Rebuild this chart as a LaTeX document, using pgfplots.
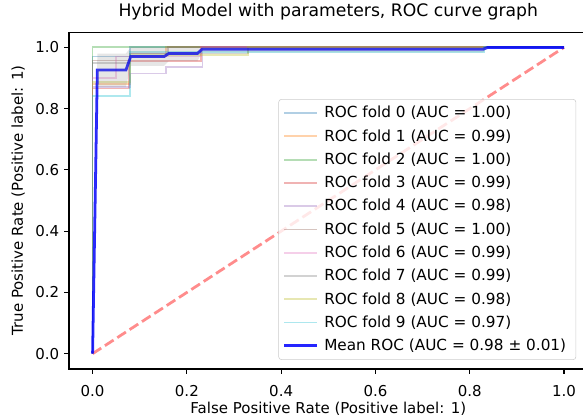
\documentclass[border=0pt]{standalone}
\usepackage{fontspec}
\setmainfont{DejaVu Sans}
\usepackage{pgfplots}
\pgfplotsset{compat=1.18}

\definecolor{c0}{HTML}{1F77B4}
\definecolor{c1}{HTML}{FF7F0E}
\definecolor{c2}{HTML}{2CA02C}
\definecolor{c3}{HTML}{D62728}
\definecolor{c4}{HTML}{9467BD}
\definecolor{c5}{HTML}{8C564B}
\definecolor{c6}{HTML}{E377C2}
\definecolor{c7}{HTML}{7F7F7F}
\definecolor{c8}{HTML}{BCBD22}
\definecolor{c9}{HTML}{17BECF}

\begin{document}
\begin{tikzpicture}
\begin{axis}[
    scale only axis,
    width=373.4pt, height=242.6pt,
    xmin=-0.05, xmax=1.05,
    ymin=-0.05, ymax=1.05,
    xtick={0,0.2,...,1.0}, ytick={0,0.2,...,1.0},
    tick pos=left,
    tick align=outside,
    major tick length=3.5pt,
    every tick/.style={black, line width=0.8pt},
    axis line style={line width=0.8pt},
    font=\fontsize{10.8}{13}\selectfont,
    /pgf/number format/assume math mode=true,
    xticklabel style={yshift=-4.5pt, /pgf/number format/.cd, fixed, fixed zerofill, precision=1},
    yticklabel style={/pgf/number format/.cd, fixed, fixed zerofill, precision=1},
    every axis title shift=0pt,
    title={Hybrid Model with parameters, ROC curve graph},
    title style={font=\fontsize{12.4}{15}\selectfont, at={(axis description cs:0.5,1.059)}, anchor=center},
    xlabel={False Positive Rate (Positive label: 1)},
    ylabel={True Positive Rate (Positive label: 1)},
    xlabel style={at={(axis description cs:0.5,-0.118)}, anchor=center},
    ylabel style={at={(axis description cs:-0.0983,0.5)}, anchor=center},
    legend cell align=left,
    legend image code/.code={\draw[#1] (0pt,0pt) -- (23.8pt,0pt);},
    legend style={at={(0.978,0.027)}, anchor=south east,
        draw=black!20, rounded corners=2pt, fill=white, fill opacity=0.8, text opacity=1,
        font=\fontsize{11}{13}\selectfont, row sep=2.9pt, inner xsep=3pt, inner ysep=3pt,
        nodes={inner xsep=4pt}},
]
% folds
\addplot[c0, line width=1.3pt, opacity=0.35] coordinates {(0,0) (0,0.97) (0.08,0.97) (0.08,1) (1,1)};
\addlegendentry{ROC fold 0 (AUC = 1.00)}
\addplot[c1, line width=1.3pt, opacity=0.35] coordinates {(0,0) (0,0.88) (0.08,0.88) (0.08,0.97) (0.155,0.97) (0.155,1) (1,1)};
\addlegendentry{ROC fold 1 (AUC = 0.99)}
\addplot[c2, line width=1.3pt, opacity=0.35] coordinates {(0,0) (0,1) (1,1)};
\addlegendentry{ROC fold 2 (AUC = 1.00)}
\addplot[c3, line width=1.3pt, opacity=0.35] coordinates {(0,0) (0,0.866) (0.077,0.866) (0.077,0.955) (0.23,0.955) (0.23,1) (1,1)};
\addlegendentry{ROC fold 3 (AUC = 0.99)}
\addplot[c4, line width=1.3pt, opacity=0.35] coordinates {(0,0) (0,0.87) (0.08,0.87) (0.08,0.915) (0.155,0.915) (0.155,0.935) (0.233,0.935) (0.233,1) (1,1)};
\addlegendentry{ROC fold 4 (AUC = 0.98)}
\addplot[c5, line width=1.3pt, opacity=0.35] coordinates {(0,0) (0,0.957) (0.08,0.957) (0.08,0.98) (0.16,0.98) (0.16,1) (1,1)};
\addlegendentry{ROC fold 5 (AUC = 1.00)}
\addplot[c6, line width=1.3pt, opacity=0.35] coordinates {(0,0) (0,0.9) (0.05,0.9) (0.05,0.97) (0.23,0.97) (0.23,1) (1,1)};
\addlegendentry{ROC fold 6 (AUC = 0.99)}
\addplot[c7, line width=1.3pt, opacity=0.35] coordinates {(0,0) (0,0.95) (0.08,0.95) (0.08,0.98) (0.33,0.98) (0.33,1) (1,1)};
\addlegendentry{ROC fold 7 (AUC = 0.99)}
\addplot[c8, line width=1.3pt, opacity=0.35] coordinates {(0,0) (0,0.886) (0.08,0.886) (0.08,0.975) (0.33,0.975) (0.33,1) (1,1)};
\addlegendentry{ROC fold 8 (AUC = 0.98)}
\addplot[c9, line width=1.3pt, opacity=0.35] coordinates {(0,0) (0,0.84) (0.08,0.84) (0.08,0.984) (0.83,0.984) (0.83,1) (1,1)};
\addlegendentry{ROC fold 9 (AUC = 0.97)}
% chance
\addplot[red, opacity=0.45, line width=2pt, dash pattern=on 7.4pt off 3.2pt, forget plot] coordinates {(0,0) (1,1)};
% mean
\addplot[blue, opacity=0.85, line width=2pt] coordinates {(0,0) (0.0101,0.926) (0.0707,0.926) (0.0808,0.97) (0.1515,0.97) (0.1616,0.98) (0.2222,0.98) (0.2323,0.994) (0.8283,0.994) (0.8384,1) (1,1)};
\addlegendentry{Mean ROC (AUC = 0.98 ± 0.01)}
% std band
\addplot[draw=none, fill=gray, fill opacity=0.2, forget plot] coordinates {(0,0) (0.0101,0.98) (0.0707,0.98) (0.0808,1) (1,1) (0.8384,1) (0.8283,0.984) (0.2323,0.984) (0.2222,0.955) (0.1616,0.955) (0.1515,0.94) (0.0808,0.94) (0.0707,0.87) (0.0101,0.87) (0,0)} -- cycle;
\end{axis}
\pgfresetboundingbox
\path[use as bounding box] ([xshift=-49.7pt,yshift=-36.7pt]current axis.south west) rectangle ([xshift=370.1pt,yshift=265.7pt]current axis.south west);
\end{tikzpicture}
\end{document}
